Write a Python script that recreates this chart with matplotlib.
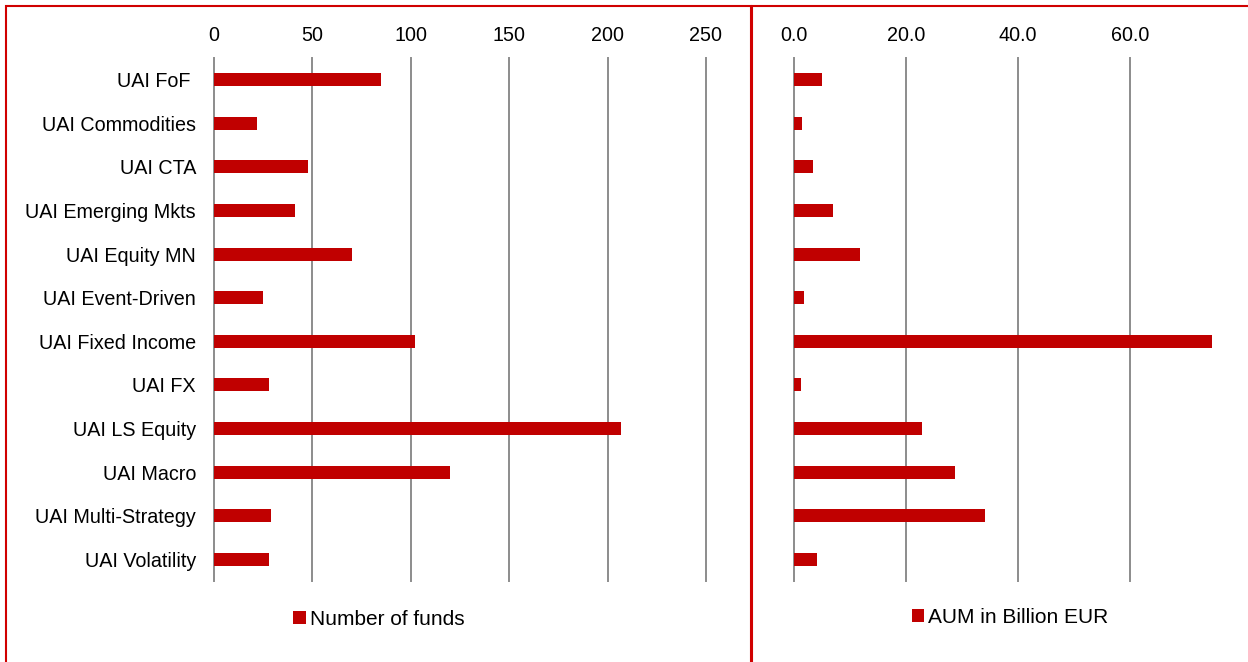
import matplotlib.pyplot as plt
from matplotlib.patches import Rectangle

plt.rcParams['font.family'] = ['Liberation Sans', 'DejaVu Sans']

categories = [
    "UAI FoF ", "UAI Commodities", "UAI CTA", "UAI Emerging Mkts",
    "UAI Equity MN", "UAI Event-Driven", "UAI Fixed Income", "UAI FX",
    "UAI LS Equity", "UAI Macro", "UAI Multi-Strategy", "UAI Volatility",
]
num_funds = [85, 22, 48, 41, 70, 25, 102, 28, 207, 120, 29, 28]
aum_bn_eur = [5.0, 1.5, 3.4, 7.0, 11.8, 1.8, 74.6, 1.3, 22.9, 28.8, 34.1, 4.1]

funds_ticks = [0, 50, 100, 150, 200, 250]
aum_ticks = [0, 20, 40, 60]

bar_color = "#C00000"
grid_color = "#8C8C8C"
font_size = 14.2


def style_axes(ax):
    ax.xaxis.tick_top()
    ax.tick_params(axis="both", length=0, labelsize=font_size, colors="black")
    ax.tick_params(axis="x", pad=9.5)
    ax.grid(True, axis="x", color=grid_color, linewidth=1.4)
    for line in ax.get_xgridlines():
        line.set_clip_on(False)
    ax.set_axisbelow(True)
    for spine in ax.spines.values():
        spine.set_visible(False)
    ax.set_ylim(len(categories) - 0.5, -0.5)


fig = plt.figure(figsize=(12.48, 6.62), dpi=100)

ax_left = fig.add_axes([214 / 1248, 1 - 581 / 662, 492 / 1248, 523 / 662])
ax_left.barh(range(len(categories)), num_funds, height=0.3,
             color=bar_color, label="Number of funds")
ax_left.set_xlim(0, 250)
ax_left.set_xticks(funds_ticks)
ax_left.set_yticks(range(len(categories)))
ax_left.set_yticklabels(categories)
style_axes(ax_left)
ax_left.tick_params(axis="y", pad=13)
ax_left.legend(loc="center", bbox_to_anchor=(0.335, -0.073), frameon=False,
               fontsize=15, handlelength=0.6, handleheight=0.6,
               handletextpad=0.2)

ax_right = fig.add_axes([794 / 1248, 1 - 581 / 662, 418 / 1248, 523 / 662])
ax_right.barh(range(len(categories)), aum_bn_eur, height=0.3,
              color=bar_color, label="AUM in Billion EUR")
ax_right.set_xlim(0, 74.64)
ax_right.set_xticks(aum_ticks)
ax_right.set_xticklabels([f"{t:.1f}" for t in aum_ticks])
ax_right.set_yticks([])
style_axes(ax_right)
ax_right.legend(loc="center", bbox_to_anchor=(0.517, -0.070), frameon=False,
                fontsize=15, handlelength=0.6, handleheight=0.6,
                handletextpad=0.2)

# red panel borders
for x0, x1 in [(6, 751), (752, 1260)]:
    fig.patches.append(Rectangle((x0 / 1248, -0.05), (x1 - x0) / 1248,
                                 1.05 - 6 / 662, transform=fig.transFigure,
                                 fill=False, edgecolor="#D00000",
                                 linewidth=1.5))

fig.savefig("out.png", dpi=100)
